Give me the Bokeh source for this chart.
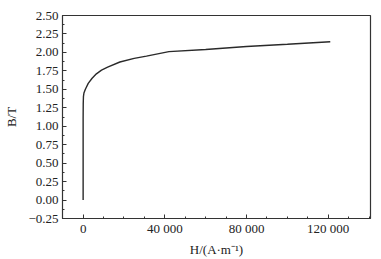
from bokeh.plotting import figure
from bokeh.models import FixedTicker, Range1d
from bokeh.embed import file_html
from bokeh.resources import INLINE

# B-H magnetisation curve
H = [0, 0, 50, 150, 400, 1100, 2500, 4400, 6500, 9000, 12000, 18000, 25000,
     31000, 42000, 60000, 80000, 100000, 121000]
B = [0, 1.10, 1.30, 1.40, 1.45, 1.50, 1.58, 1.65, 1.71, 1.76, 1.80, 1.87, 1.92,
     1.95, 2.01, 2.04, 2.08, 2.11, 2.145]

x_ticks = [0, 40000, 80000, 120000]
x_tick_labels = ["0", "40 000", "80 000", "120 000"]
x_minor = [-10000, 10000, 20000, 30000, 50000, 60000, 70000, 90000, 100000, 110000, 130000, 140000]
y_ticks = [-0.25, 0.0, 0.25, 0.5, 0.75, 1.0, 1.25, 1.5, 1.75, 2.0, 2.25, 2.5]
y_tick_labels = ["\u22120.25", "0.00", "0.25", "0.50", "0.75", "1.00", "1.25",
                 "1.50", "1.75", "2.00", "2.25", "2.50"]

FONT = "Liberation Serif"

p = figure(width=381, height=259, output_backend="svg", toolbar_location=None,
           x_range=Range1d(-10100, 140700), y_range=Range1d(-0.25, 2.5),
           min_border_left=62, min_border_right=11, min_border_top=15, min_border_bottom=38)

p.line(H, B, line_color="#2a2a2a", line_width=1.4)

p.xgrid.visible = False
p.ygrid.visible = False
p.outline_line_color = "#333333"
p.outline_line_width = 1.2

minor_y = [v + 0.125 for v in y_ticks[:-1]]
p.xaxis.ticker = FixedTicker(ticks=x_ticks, minor_ticks=x_minor)
p.xaxis.major_label_overrides = {t: l for t, l in zip(x_ticks, x_tick_labels)}
p.yaxis.ticker = FixedTicker(ticks=y_ticks, minor_ticks=minor_y)
p.yaxis.major_label_overrides = {t: l for t, l in zip(y_ticks, y_tick_labels)}

for ax in (p.xaxis[0], p.yaxis[0]):
    ax.major_tick_in = 4
    ax.major_tick_out = 0
    ax.minor_tick_in = 2
    ax.minor_tick_out = 0
    ax.axis_line_color = "#333333"
    ax.major_tick_line_color = "#333333"
    ax.minor_tick_line_color = "#333333"
    ax.major_label_text_font = FONT
    ax.major_label_text_font_size = "13px"
    ax.major_label_text_color = "#222222"
    ax.axis_label_text_font = FONT
    ax.axis_label_text_font_size = "13px"
    ax.axis_label_text_font_style = "normal"
    ax.axis_label_text_color = "#222222"

p.xaxis.axis_label = "H/(A\u00b7m\u207b\u00b9)"
p.yaxis.axis_label = "B/T"
p.xaxis.major_label_standoff = 2
p.yaxis.major_label_standoff = 4
p.xaxis.axis_label_standoff = 3
p.yaxis.axis_label_standoff = 6

open("out.html", "w").write(file_html(p, INLINE))
